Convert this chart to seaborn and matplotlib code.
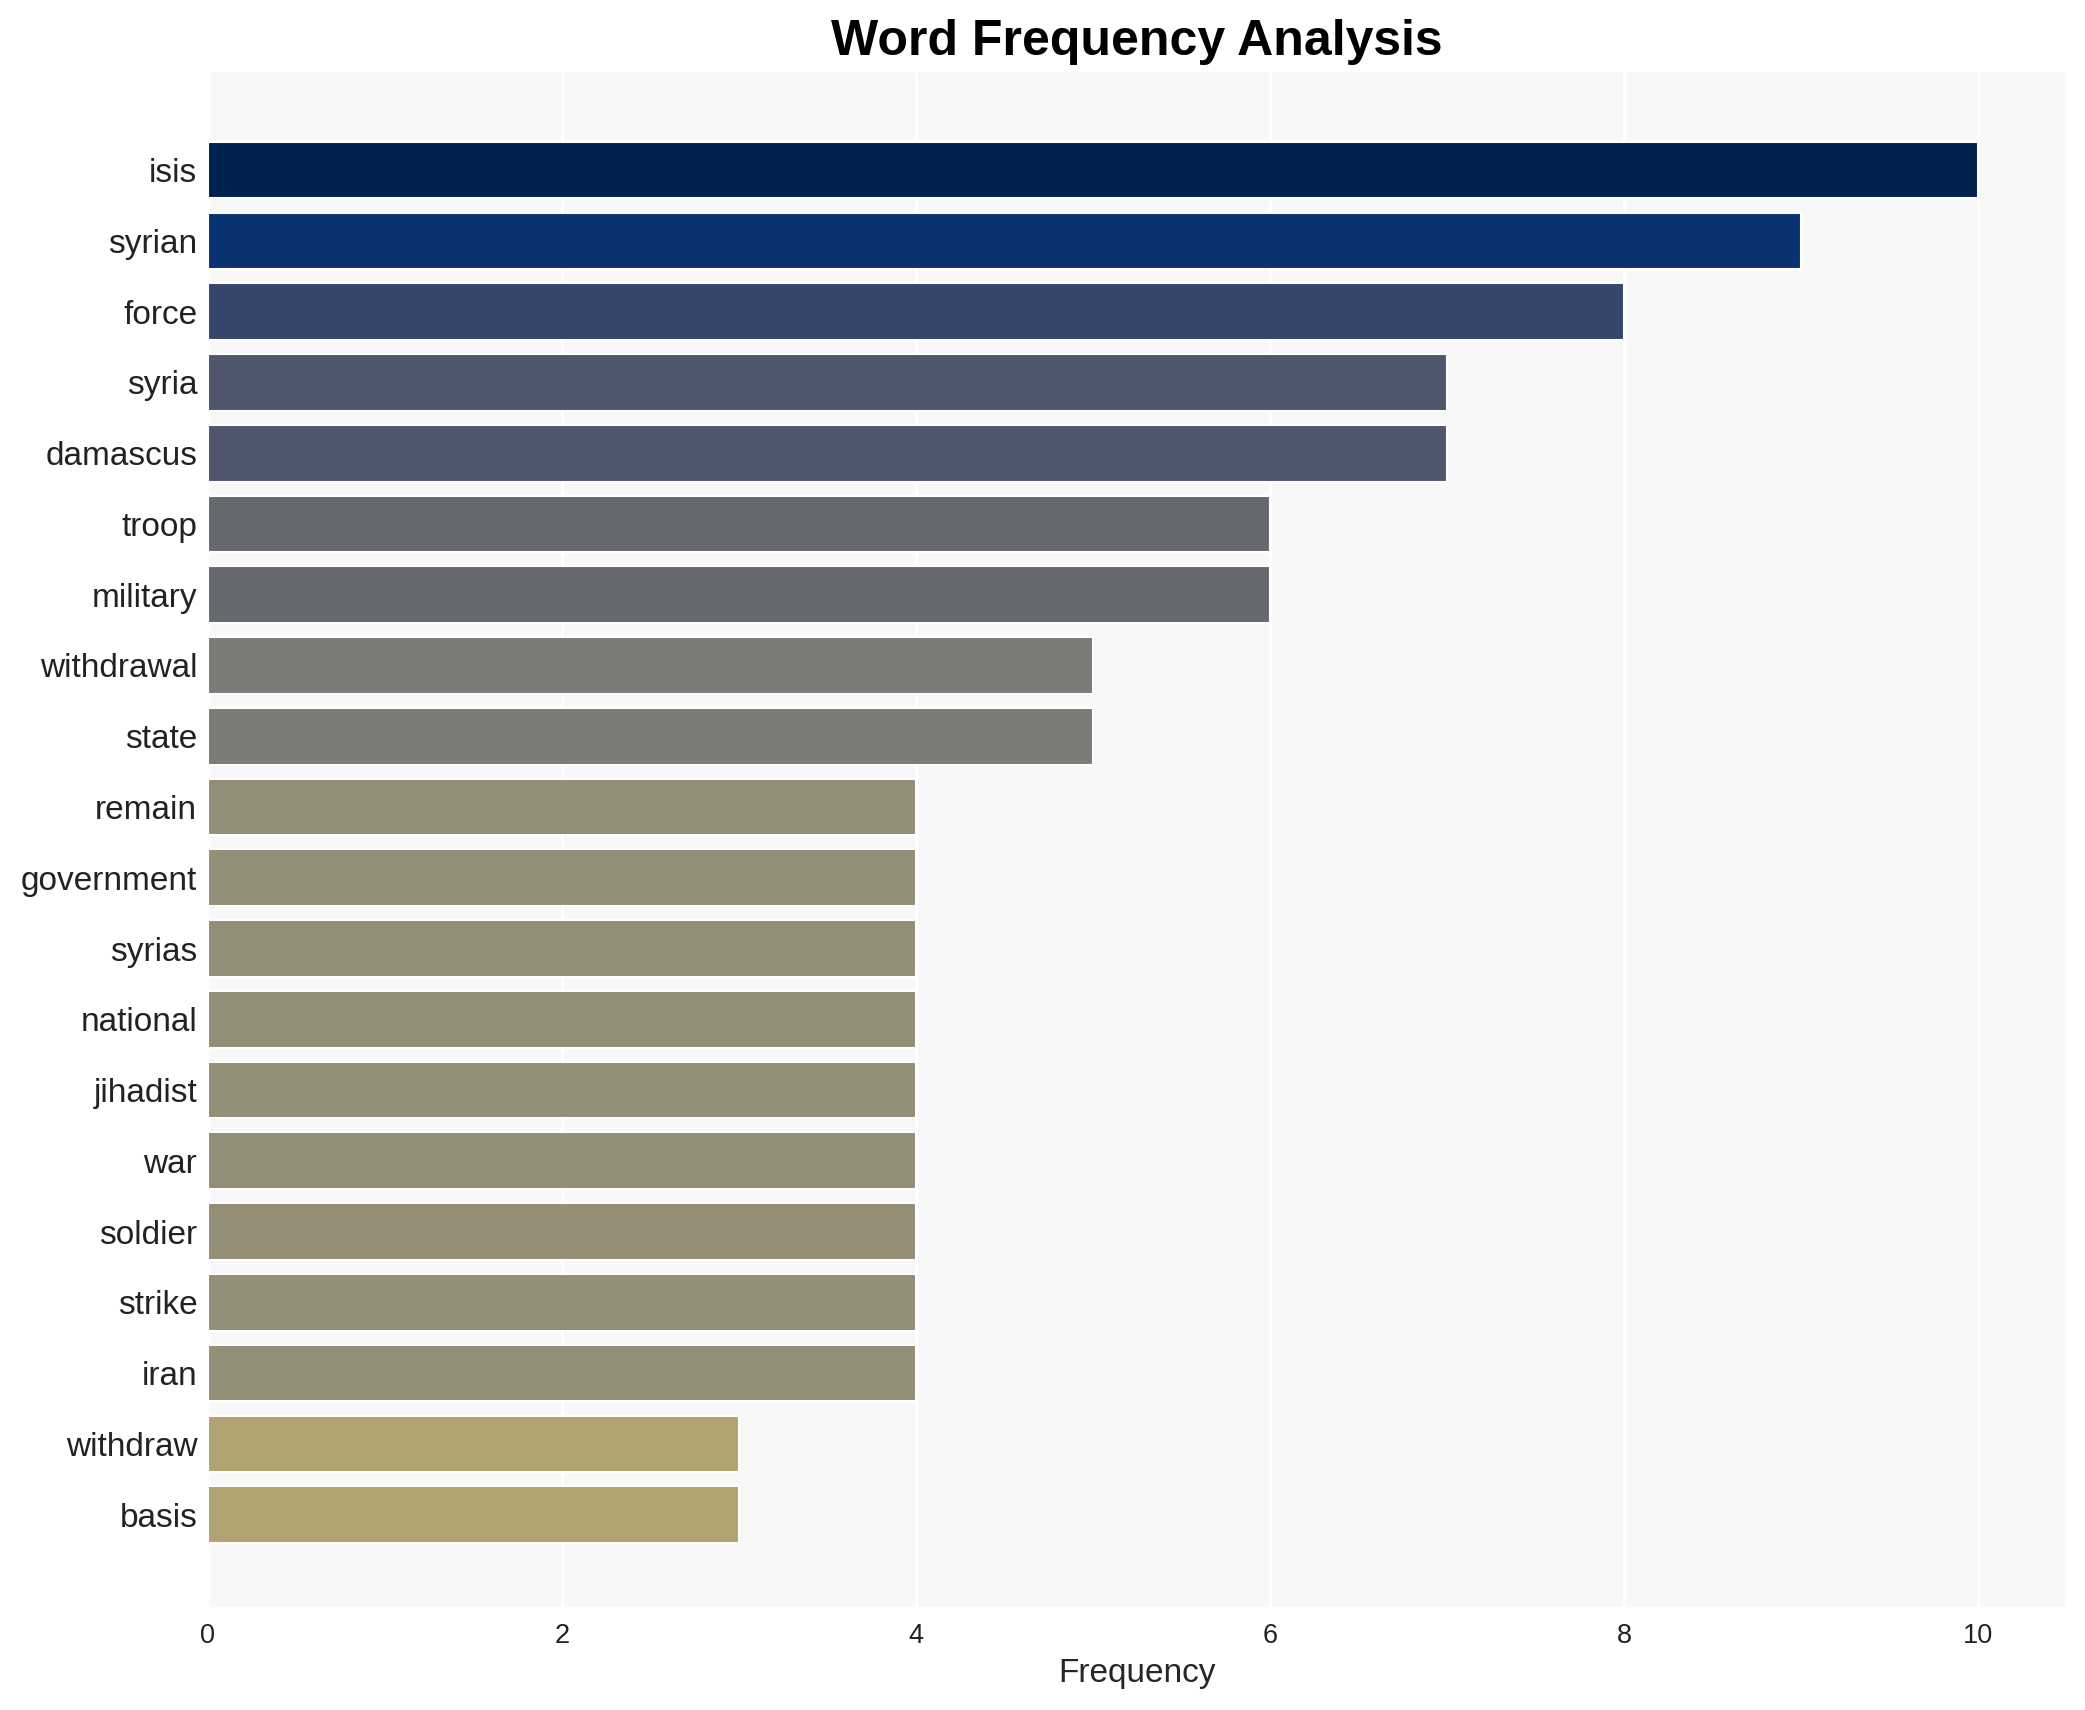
import matplotlib
matplotlib.use("Agg")
import matplotlib.pyplot as plt
import seaborn as sns
import pandas as pd

words = ["isis", "syrian", "force", "syria", "damascus", "troop", "military",
         "withdrawal", "state", "remain", "government", "syrias", "national",
         "jihadist", "war", "soldier", "strike", "iran", "withdraw", "basis"]
counts = [10, 9, 8, 7, 7, 6, 6, 5, 5, 4, 4, 4, 4, 4, 4, 4, 4, 4, 3, 3]

df = pd.DataFrame({"word": words, "freq": counts})

sns.set_theme(style="whitegrid", rc={
    "axes.facecolor": "#f8f8f8",
    "grid.color": "white",
    "grid.linewidth": 1.5,
    "axes.edgecolor": "#f8f8f8",
})
plt.rcParams["font.family"] = ["Liberation Sans", "DejaVu Sans"]

fig = plt.figure(figsize=(2085 / 150, 1710 / 150), dpi=150)
ax = fig.add_axes([0.0996, 0.0605, 0.8915, 0.8975])

sns.barplot(data=df, x="freq", y="word", hue="freq", palette="cividis_r",
            hue_norm=(0, 10), legend=False, width=0.8, saturation=1, ax=ax)

ax.set_ylim(len(words) - 1 + 1.3, -1.39)
ax.set_xlim(0, 10.5)
ax.set_title("Word Frequency Analysis", fontsize=24, fontweight="bold",
             color="black", pad=8)
ax.set_xlabel("Frequency", fontsize=16)
ax.set_ylabel("")
ax.tick_params(axis="y", labelsize=16, length=0, pad=5, labelcolor="#222222")
ax.tick_params(axis="x", labelsize=13, length=0, pad=8, labelcolor="#222222")
for s in ax.spines.values():
    s.set_visible(False)

fig.savefig("out.png", dpi=150)
